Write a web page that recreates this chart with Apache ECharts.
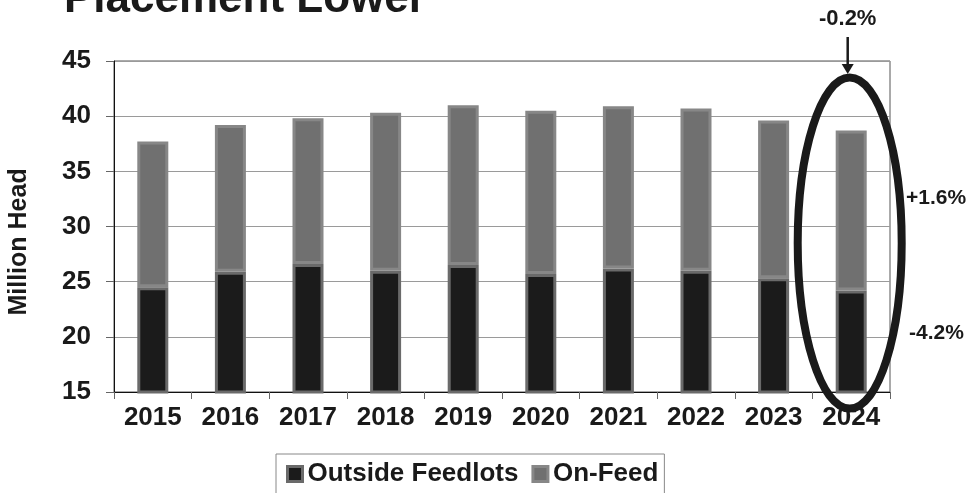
<!DOCTYPE html>
<html>
<head>
<meta charset="utf-8">
<script src="https://cdn.jsdelivr.net/npm/echarts@6/dist/echarts.min.js"></script>
<style>
html,body{margin:0;padding:0;background:#fff;}
#chart{width:968px;height:493px;}
</style>
</head>
<body>
<div id="chart"></div>
<script>
const years = ['2015','2016','2017','2018','2019','2020','2021','2022','2023','2024'];
const outsideFeedlots = [24.5, 25.9, 26.6, 26.0, 26.5, 25.7, 26.2, 26.0, 25.3, 24.2];
const onFeed = [13.2, 13.3, 13.2, 14.3, 14.5, 14.8, 14.7, 14.7, 14.3, 14.5];
const yTicks = {min: 15, max: 45, interval: 5};
const titleText = 'Placement Lower';
const yAxisTitle = 'Million Head';
const annTotal = '-0.2%';
const annOnFeed = '+1.6%';
const annOutside = '-4.2%';

const FONT = 'Liberation Sans, Arial, sans-serif';
const chart = echarts.init(document.getElementById('chart'), null, {renderer: 'canvas'});

const option = {
  animation: false,
  backgroundColor: '#fff',
  grid: {left: 114, right: 78, top: 61, bottom: 101, show: true, borderColor: '#555', borderWidth: 1, containLabel: false},
  legend: {
    left: 276, top: 454,
    padding: [7, 6, 30, 10],
    borderColor: '#888', borderWidth: 1,
    itemWidth: 15, itemHeight: 15, itemGap: 13,
    icon: 'rect',
    textStyle: {fontFamily: FONT, fontWeight: 'bold', fontSize: 26, color: '#1a1a1a'},
    data: [
      {name: 'Outside Feedlots', itemStyle: {color: '#1b1b1b', borderColor: '#6a6a6a', borderWidth: 3}},
      {name: 'On-Feed', itemStyle: {color: '#707070', borderColor: '#878787', borderWidth: 3}}
    ]
  },
  xAxis: {
    type: 'category', data: years,
    axisLine: {lineStyle: {color: '#111', width: 1}},
    axisTick: {show: true, interval: 0, length: 7, lineStyle: {color: '#666'}},
    axisLabel: {fontFamily: FONT, fontWeight: 'bold', fontSize: 26, color: '#1a1a1a', margin: 13}
  },
  yAxis: {
    type: 'value', min: yTicks.min, max: yTicks.max, interval: yTicks.interval,
    axisLine: {show: true, lineStyle: {color: '#111', width: 1}},
    axisTick: {show: true, length: 8, lineStyle: {color: '#666'}},
    axisLabel: {fontFamily: FONT, fontWeight: 'bold', fontSize: 26, color: '#1a1a1a', margin: 23},
    splitLine: {show: true, lineStyle: {color: '#9a9a9a', width: 1}}
  },
  series: [
    {name: 'Outside Feedlots', type: 'bar', stack: 'total', data: outsideFeedlots, barWidth: 31,
     itemStyle: {color: '#1b1b1b', borderColor: '#6a6a6a', borderWidth: 3}},
    {name: 'On-Feed', type: 'bar', stack: 'total', data: onFeed, barWidth: 31,
     itemStyle: {color: '#707070', borderColor: '#878787', borderWidth: 3}}
  ]
};
chart.setOption(option);

// annotations anchored to the 2024 category through the axes
const last = years.length - 1;
const cx = chart.convertToPixel({xAxisIndex: 0}, years[last]) - 1.5;
const yTop = chart.convertToPixel({yAxisIndex: 0}, 43.5);
const yBot = chart.convertToPixel({yAxisIndex: 0}, 13.5);
const cy = (yTop + yBot) / 2;
const ry = (yBot - yTop) / 2;
const rx = 52;
const yOnFeed = chart.convertToPixel({yAxisIndex: 0}, 32.6);
const yOut = chart.convertToPixel({yAxisIndex: 0}, 20.3);
const yNameCenter = chart.convertToPixel({yAxisIndex: 0}, 28.6);

chart.setOption({
  graphic: [
    {type: 'text', left: 64, top: -22, style: {text: titleText, font: 'bold 44px ' + FONT, fill: '#1a1a1a'}},
    {type: 'text', x: 19, y: yNameCenter, rotation: Math.PI / 2,
     style: {text: yAxisTitle, font: 'bold 25px ' + FONT, fill: '#1a1a1a', align: 'center', verticalAlign: 'middle'}},
    {type: 'ellipse', shape: {cx: cx, cy: cy, rx: rx, ry: ry}, style: {fill: 'none', stroke: '#1a1a1a', lineWidth: 8}, z: 10},
    {type: 'text', x: cx - 2, y: 19, style: {text: annTotal, font: 'bold 22px ' + FONT, fill: '#1a1a1a', align: 'center', verticalAlign: 'middle'}},
    {type: 'line', shape: {x1: cx - 2, y1: 37, x2: cx - 2, y2: 66}, style: {stroke: '#1a1a1a', lineWidth: 2.5}, z: 10},
    {type: 'polygon', shape: {points: [[cx - 8, 64], [cx + 4, 64], [cx - 2, 74]]}, style: {fill: '#1a1a1a'}, z: 10},
    {type: 'text', x: 906, y: yOnFeed, style: {text: annOnFeed, font: 'bold 21px ' + FONT, fill: '#1a1a1a', align: 'left', verticalAlign: 'middle'}},
    {type: 'text', x: 909, y: yOut, style: {text: annOutside, font: 'bold 21px ' + FONT, fill: '#1a1a1a', align: 'left', verticalAlign: 'middle'}}
  ]
});
</script>
</body>
</html>
